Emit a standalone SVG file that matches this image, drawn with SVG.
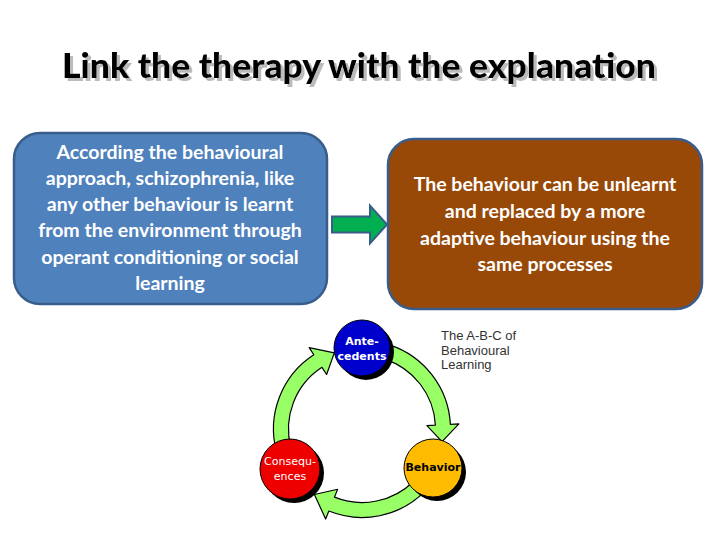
<svg xmlns="http://www.w3.org/2000/svg" width="720" height="540" viewBox="0 0 720 540">
<defs>
<style>
.title{font-family:Lato,"Open Sans","Liberation Sans",sans-serif;font-weight:900;font-size:35px;text-anchor:middle}
.box{font-family:Lato,"Open Sans","Liberation Sans",sans-serif;font-weight:700;font-size:19.5px;fill:#ffffff;text-anchor:middle}
.cyc{fill:#99ff66;stroke:#000;stroke-width:1.2;stroke-linejoin:round}
.lbl{font-family:"DejaVu Sans","Liberation Sans",sans-serif;font-size:11px;text-anchor:middle}
.abc{font-family:"Liberation Sans",Arial,sans-serif;font-size:13px;fill:#333}
</style>
<filter id="shadow" x="-5%" y="-30%" width="110%" height="160%">
<feOffset in="SourceAlpha" dx="2.5" dy="2.5" result="o"/>
<feFlood flood-color="#bbbbbb"/>
<feComposite in2="o" operator="in" result="s"/>
<feMerge><feMergeNode in="s"/><feMergeNode in="SourceGraphic"/></feMerge>
</filter>
</defs>
<rect width="720" height="540" fill="#fff"/>
<g id="title">
<text class="title" x="359" y="78" fill="#000" textLength="594" lengthAdjust="spacingAndGlyphs" filter="url(#shadow)">Link the therapy with the explanation</text>
</g>
<g id="explanation">
<rect x="14" y="133" width="313" height="171" rx="26" fill="#4f81bd" stroke="#385d8a" stroke-width="2.5"/>
<text class="box" x="170" y="159">According the behavioural</text>
<text class="box" x="170" y="185">approach, schizophrenia, like</text>
<text class="box" x="170" y="211">any other behaviour is learnt</text>
<text class="box" x="170" y="237">from the environment through</text>
<text class="box" x="170" y="264">operant conditioning or social</text>
<text class="box" x="170" y="290">learning</text>
</g>
<g id="therapy">
<rect x="388" y="139" width="314" height="170" rx="26" fill="#984807" stroke="#385d8a" stroke-width="2.5"/>
<text class="box" x="545" y="191">The behaviour can be unlearnt</text>
<text class="box" x="545" y="218">and replaced by a more</text>
<text class="box" x="545" y="245">adaptive behaviour using the</text>
<text class="box" x="545" y="271">same processes</text>
</g>
<g id="connectors">
<path d="M332,216.5 H370 V205.5 L387,224.5 L370,243.5 V232.5 H332 Z" fill="#00b050" stroke="#385d8a" stroke-width="2"/>
<g transform="translate(-1,3)">
<path class="cyc" d="M390.35,341.83 A88.5,88.5 0 0 1 451.38,421.37 L459.87,420.92 L443,438.67 L427.91,422.6 L436.4,422.15 A73.5,73.5 0 0 0 385.71,356.09 Z"/>
<path class="cyc" d="M425.58,488.58 A88.5,88.5 0 0 1 329.85,508.06 L326.66,515.94 L315.39,491.53 L338.65,486.27 L335.47,494.15 A73.5,73.5 0 0 0 414.97,477.97 Z"/>
<path class="cyc" d="M277.51,448.91 A88.5,88.5 0 0 1 314.8,351.78 L310.17,344.65 L335.3,349.88 L327.6,371.48 L322.97,364.36 A73.5,73.5 0 0 0 292,445.02 Z"/>
</g>
</g>
<g id="antecedents">
<circle cx="366" cy="352" r="28" fill="#000"/>
<circle cx="362" cy="348" r="28" fill="#0000cc" stroke="#000" stroke-width="1"/>
<text class="lbl" x="362" y="345" fill="#fff" font-weight="bold">Ante-</text>
<text class="lbl" x="362" y="360" fill="#fff" font-weight="bold">cedents</text>
</g>
<g id="behavior">
<circle cx="437" cy="472" r="29" fill="#000"/>
<circle cx="433" cy="468" r="29" fill="#ffbb00" stroke="#000" stroke-width="1"/>
<text class="lbl" x="433" y="471" fill="#000" font-weight="bold">Behavior</text>
</g>
<g id="consequences">
<circle cx="294" cy="473" r="30" fill="#000"/>
<circle cx="290" cy="469" r="30" fill="#ee0000" stroke="#000" stroke-width="1"/>
<text class="lbl" x="290" y="465" fill="#fff">Consequ-</text>
<text class="lbl" x="290" y="480" fill="#fff">ences</text>
</g>
<g id="abc-caption">
<text class="abc" x="441" y="340">The A-B-C of</text>
<text class="abc" x="441" y="355">Behavioural</text>
<text class="abc" x="441" y="369">Learning</text>
</g>
</svg>
